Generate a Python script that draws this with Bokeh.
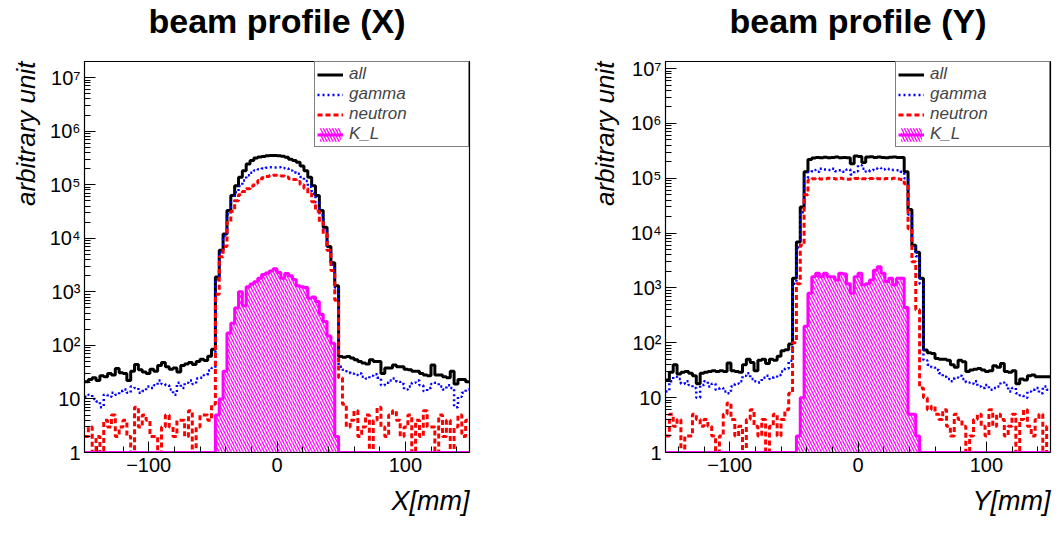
import numpy as np
from bokeh.plotting import figure
from bokeh.models import (Range1d, FixedTicker, Legend, LegendItem, Title,
                          CustomJSTickFormatter)
from bokeh.layouts import row
from bokeh.embed import file_html
from bokeh.resources import INLINE

# ---------------- data (histogram contents, 100 bins of 3 mm from -150 to 150) ----------------
BIN_LO, BIN_HI, N_BINS = -150.0, 150.0, 100

X_all = [
    21, 23, 25, 22, 27, 26, 30, 28, 37, 31,
    30, 22, 33, 44, 35, 32, 30, 36, 33, 42,
    48, 40, 36, 38, 32, 42, 45, 48, 44, 50,
    55, 52, 63, 85, 1900, 6000, 12000, 33000, 63000, 96000,
    138000, 182000, 245000, 282000, 316000, 330000, 337000, 347000, 350000, 352000,
    348000, 340000, 325000, 300000, 282000, 262000, 224000, 182000, 138000, 96000,
    63000, 33000, 16000, 7000, 3500, 1300, 62, 60, 62, 58,
    54, 50, 47, 45, 54, 50, 50, 30, 38, 38,
    43, 40, 40, 36, 35, 33, 33, 30, 28, 27,
    43, 28, 28, 26, 25, 33, 19, 23, 23, 21,
]
X_gamma = [
    11, 12, 10, 9, 7, 12, 11, 13, 12, 14,
    15, 13, 17, 16, 13, 14, 17, 16, 18, 22,
    19, 18, 15, 12, 20, 16, 20, 22, 19, 24,
    25, 28, 34, 38, 1700, 5500, 11000, 28000, 50000, 72000,
    95000, 120000, 150000, 168000, 185000, 195000, 200000, 208000, 212000, 210000,
    212000, 205000, 200000, 185000, 170000, 160000, 140000, 118000, 92000, 68000,
    47000, 27000, 14000, 6000, 3200, 1200, 40, 35, 33, 30,
    28, 30, 26, 24, 27, 29, 25, 18, 20, 22,
    24, 21, 19, 15, 17, 20, 22, 18, 14, 16,
    19, 20, 17, 15, 18, 16, 7, 11, 13, 15,
]
X_neutron = [
    2, 3, 1, 2, 0, 4, 3, 5, 2, 3,
    4, 2, 1, 7, 3, 5, 4, 2, 2, 1,
    3, 5, 3, 2, 4, 4, 2, 6, 1, 3,
    5, 5, 4, 8, 900, 4500, 7000, 20000, 32000, 50000,
    65000, 75000, 84000, 95000, 106000, 120000, 135000, 142000, 148000, 150000,
    148000, 145000, 140000, 130000, 125000, 115000, 100000, 85000, 68000, 48000,
    32000, 20000, 12000, 6000, 2500, 700, 25, 8, 3, 4,
    6, 2, 3, 5, 1, 4, 7, 3, 2, 5,
    6, 4, 2, 3, 5, 1, 4, 2, 6, 3,
    3, 1, 5, 2, 4, 0, 3, 5, 2, 4,
]
X_KL = [0] * 34 + [
    5, 10, 33, 170, 260, 500,
    1000, 550, 1250, 1400, 1550, 1800, 2100, 2250, 2450, 2700,
    2300, 1800, 2200, 2000, 1700, 1300, 1250, 1200, 760, 800,
    660, 380, 280, 150, 110, 2,
] + [0] * 34

Y_all = [
    21, 29, 40, 27, 29, 30, 28, 25, 18, 28,
    29, 30, 31, 30, 31, 30, 43, 31, 30, 29,
    40, 50, 44, 31, 48, 50, 42, 50, 48, 57,
    72, 75, 95, 1500, 6900, 30000, 132000, 220000, 235000, 240000,
    238000, 242000, 236000, 240000, 245000, 238000, 240000, 236000, 185000, 255000,
    250000, 195000, 245000, 248000, 240000, 244000, 240000, 238000, 242000, 246000,
    240000, 240000, 132000, 27000, 6000, 4500, 1500, 74, 66, 64,
    52, 50, 50, 48, 40, 36, 48, 45, 30, 32,
    33, 34, 32, 30, 31, 38, 36, 42, 30, 29,
    31, 18, 22, 21, 25, 26, 24, 24, 24, 24,
]
Y_gamma = [
    13, 20, 24, 22, 18, 20, 17, 15, 10, 17,
    20, 16, 18, 14, 15, 13, 12, 16, 18, 20,
    25, 28, 22, 20, 19, 23, 25, 22, 24, 26,
    30, 34, 47, 1200, 5500, 24000, 100000, 130000, 142000, 132000,
    150000, 145000, 142000, 150000, 135000, 140000, 132000, 145000, 118000, 135000,
    174000, 150000, 132000, 140000, 150000, 155000, 145000, 150000, 145000, 142000,
    140000, 132000, 100000, 22000, 5500, 3800, 1200, 48, 40, 36,
    32, 28, 24, 22, 20, 23, 25, 22, 19, 18,
    20, 16, 15, 17, 14, 15, 16, 19, 17, 13,
    15, 12, 11, 10, 13, 14, 15, 12, 16, 14,
]
Y_neutron = [
    2, 5, 3, 4, 1, 2, 2, 5, 4, 3,
    4, 3, 2, 0, 2, 5, 8, 4, 2, 3,
    1, 4, 6, 3, 2, 4, 1, 3, 5, 2,
    4, 6, 12, 100, 1200, 6000, 50000, 92000, 98000, 100000,
    97000, 98000, 100000, 99000, 97000, 100000, 98000, 96000, 97000, 99000,
    100000, 98000, 97000, 99000, 100000, 98000, 97000, 99000, 98000, 100000,
    97000, 95000, 80000, 12000, 3000, 400, 15, 10, 6, 7,
    5, 4, 6, 3, 2, 5, 4, 3, 1, 2,
    4, 5, 3, 2, 6, 3, 5, 4, 2, 3,
    5, 1, 4, 6, 3, 2, 4, 5, 1, 3,
]
Y_KL = [0] * 34 + [
    2, 10, 200, 800, 1600, 1850, 1600, 1850, 1600, 1600,
    1400, 1850, 1800, 1200, 800, 1600, 1850, 1150, 1200, 1400,
    2100, 2450, 1850, 1320, 1500, 1150, 1500, 1500, 440, 5,
    5, 2,
] + [0] * 34

series_labels = ["all", "gamma", "neutron", "K_L"]
x_major_ticks = [-100, 0, 100]
x_minor_ticks = [-140, -120, -80, -60, -40, -20, 20, 40, 60, 80, 120, 140]
y_decades = list(range(0, 8))

FONT = "Liberation Sans"
SUP_FORMATTER = CustomJSTickFormatter(code=r"""
const sup = ['\u2070','\u00b9','\u00b2','\u00b3','\u2074','\u2075','\u2076','\u2077','\u2078','\u2079'];
const e = Math.round(Math.log10(tick));
if (e == 0) return '1';
if (e == 1) return '10';
return '10' + String(e).split('').map(c => sup[+c]).join('');
""")


def make_panel(title, xlabel, v_all, v_gam, v_neu, v_kl, ymax, width, bl, br, ylab_standoff):
    edges = np.linspace(BIN_LO, BIN_HI, N_BINS + 1)
    p = figure(width=width, height=533, x_range=Range1d(BIN_LO, BIN_HI),
               y_range=Range1d(1, ymax), y_axis_type="log", title=None,
               output_backend="svg", toolbar_location=None,
               min_border_left=bl, min_border_right=br,
               min_border_top=60, min_border_bottom=81)
    p.background_fill_color = "white"
    p.border_fill_color = "white"
    p.outline_line_color = "black"
    p.outline_line_width = 1.2
    p.xgrid.visible = False
    p.ygrid.visible = False

    # a thin spacer between frame and title, so that the title sits at the top edge
    p.add_layout(Title(text=" ", text_font_size="1px", standoff=16), "above")
    p.add_layout(Title(text=title, text_font=FONT, text_font_style="bold",
                       text_font_size="34px", align="center", vertical_align="top",
                       text_color="black", standoff=2), "above")

    def stepy(v):
        v = np.maximum(np.asarray(v, dtype=float), 1.0)
        return np.append(v, v[-1])

    kl = np.maximum(np.asarray(v_kl, dtype=float), 1.0)
    r_klfill = p.quad(left=edges[:-1], right=edges[1:], bottom=1, top=kl,
                      fill_color=None, line_alpha=0,
                      hatch_pattern="\\", hatch_color="#ff00ff",
                      hatch_scale=6, hatch_weight=1.3)
    r_all = p.step(edges, stepy(v_all), mode="after", line_color="black", line_width=3)
    r_gam = p.step(edges, stepy(v_gam), mode="after", line_color="#0000ff",
                   line_width=2.5, line_dash="2 3")
    r_neu = p.step(edges, stepy(v_neu), mode="after", line_color="#ff0000",
                   line_width=3, line_dash="5 3")
    r_kl = p.step(edges, stepy(v_kl), mode="after", line_color="#ff00ff", line_width=3)

    p.xaxis.ticker = FixedTicker(ticks=x_major_ticks, minor_ticks=x_minor_ticks)
    p.yaxis.ticker = FixedTicker(
        ticks=[10.0 ** e for e in y_decades],
        minor_ticks=[m * 10.0 ** e for e in y_decades for m in range(2, 10)])
    p.yaxis.formatter = SUP_FORMATTER

    for ax in (p.xaxis[0], p.yaxis[0]):
        ax.major_tick_in = 11
        ax.major_tick_out = 0
        ax.minor_tick_in = 6
        ax.minor_tick_out = 0
        ax.axis_line_color = "black"
        ax.major_tick_line_color = "black"
        ax.minor_tick_line_color = "black"
        ax.major_label_text_font = FONT
        ax.major_label_text_font_size = "20px"
        ax.major_label_text_color = "black"
    p.xaxis.major_label_standoff = 5
    p.yaxis.major_label_standoff = 4

    # axis titles (ROOT style: right / top aligned, italic)
    p.add_layout(Title(text=xlabel, align="right", text_font=FONT,
                       text_font_style="italic", text_font_size="27px",
                       text_color="black", standoff=19), "below")
    p.add_layout(Title(text="arbitrary unit", align="right", text_font=FONT,
                       text_font_style="italic", text_font_size="26px",
                       text_color="black", standoff=ylab_standoff), "left")

    legend = Legend(items=[
        LegendItem(label=series_labels[0], renderers=[r_all]),
        LegendItem(label=series_labels[1], renderers=[r_gam]),
        LegendItem(label=series_labels[2], renderers=[r_neu]),
        LegendItem(label=series_labels[3], renderers=[r_klfill, r_kl]),
    ], location="top_right", margin=0, padding=2, spacing=0,
        glyph_width=26, glyph_height=17, label_height=17, label_width=117,
        label_standoff=6, label_text_font=FONT, label_text_font_style="italic",
        label_text_font_size="17px",
        border_line_color="black", border_line_width=1.2,
        background_fill_color="white", background_fill_alpha=1.0)
    p.add_layout(legend)
    return p


p1 = make_panel("beam profile (X)", "X[mm]", X_all, X_gamma, X_neutron, X_KL,
                2.0e7, 530, 84, 61, 12)
p2 = make_panel("beam profile (Y)", "Y[mm]", Y_all, Y_gamma, Y_neutron, Y_KL,
                1.35e7, 530, 135, 10, 16)

layout = row(p1, p2)
open("out.html", "w", encoding="utf-8").write(file_html(layout, INLINE))
